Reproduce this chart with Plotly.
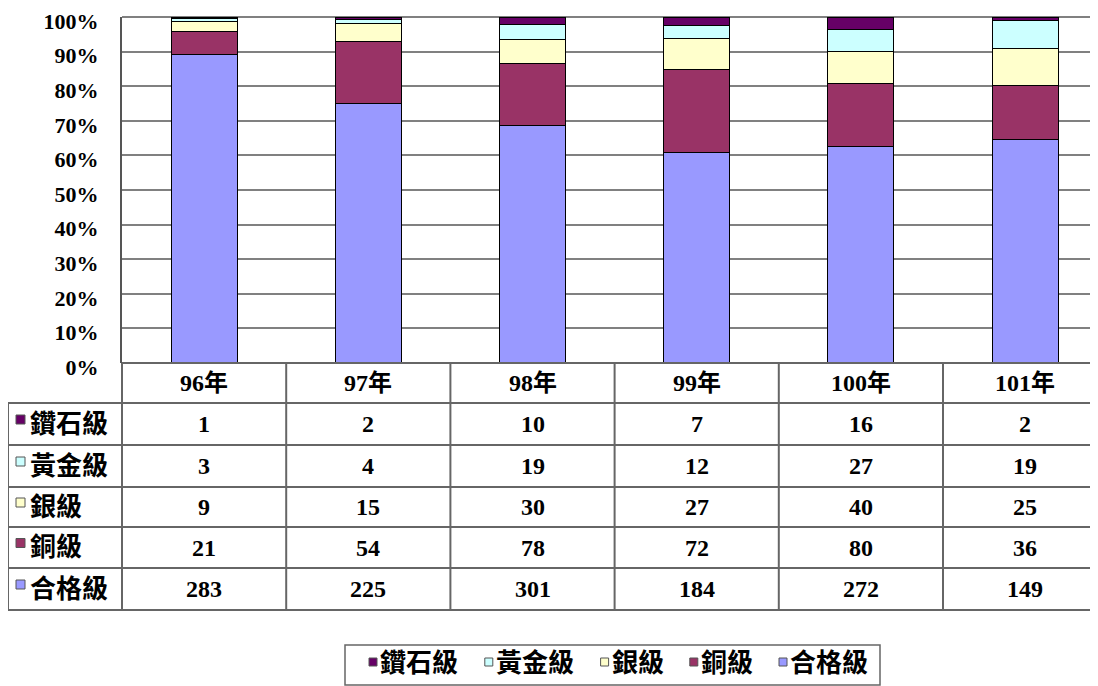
import plotly.graph_objects as go

# dados
anos = ["96年", "97年", "98年", "99年", "100年", "101年"]
series = ["合格級", "銅級", "銀級", "黃金級", "鑽石級"]
cores = ["#9999FF", "#993366", "#FFFFCC", "#CCFFFF", "#660066"]
hege = [283, 225, 301, 184, 272, 149]
tong = [21, 54, 78, 72, 80, 36]
yin = [9, 15, 30, 27, 40, 25]
huangjin = [3, 4, 19, 12, 27, 19]
zuanshi = [1, 2, 10, 7, 16, 2]
valores = [hege, tong, yin, huangjin, zuanshi]
ticks_pct = [0, 10, 20, 30, 40, 50, 60, 70, 80, 90, 100]

# a pagina tem margem de 8px no body
OFF = 8
W, H = 1098 - OFF, 686 - OFF
FONTE = "Liberation Serif, 'Noto Sans CJK TC', serif"

def px(x):
    return (x - OFF) / W

def py(y):
    return 1 - (y - OFF) / H

# area do grafico em pixels da tela
x0, xfim = 122, 1098
larg = 164.2  # largura de cada coluna (a ultima passa da borda)
ytop, ybot = 17, 363
linhas = [363, 403, 445, 487, 527, 568, 610]
xlab = 8

fig = go.Figure()
for nome, cor, vals in zip(series, cores, valores):
    fig.add_trace(go.Bar(
        x=anos, y=vals, name=nome,
        marker=dict(color=cor, line=dict(color="#000000", width=1)),
    ))

shapes = []
annots = []
cinza = "#666666"
linha = dict(color=cinza, width=2)

# linha do topo (100%)
shapes.append(dict(type="line", xref="paper", yref="paper",
                   x0=px(x0), x1=px(xfim), y0=py(ytop), y1=py(ytop),
                   line=dict(color="#808080", width=2), layer="below"))

# linhas horizontais da tabela
for j, yl in enumerate(linhas):
    shapes.append(dict(type="line", xref="paper", yref="paper",
                       x0=px(x0 if j == 0 else xlab), x1=px(xfim),
                       y0=py(yl), y1=py(yl), line=linha))
# linhas verticais
for k in range(len(anos)):
    xv = x0 + k * larg
    shapes.append(dict(type="line", xref="paper", yref="paper",
                       x0=px(xv), x1=px(xv), y0=py(linhas[0]), y1=py(linhas[-1]),
                       line=linha))
shapes.append(dict(type="line", xref="paper", yref="paper",
                   x0=px(xlab), x1=px(xlab), y0=py(linhas[1]), y1=py(linhas[-1]),
                   line=linha))

# cabecalho com os anos
for k, ano in enumerate(anos):
    annots.append(dict(x=px(x0 + (k + 0.5) * larg), y=py((linhas[0] + linhas[1]) / 2),
                       xref="paper", yref="paper", text=ano, showarrow=False,
                       xanchor="center", yanchor="middle",
                       font=dict(family=FONTE, size=24, color="black", weight="bold")))

# linhas de dados (diamante em cima)
ordem = list(range(len(series)))[::-1]
for r, i in enumerate(ordem):
    yc = (linhas[r + 1] + linhas[r + 2]) / 2
    shapes.append(dict(type="rect", xref="paper", yref="paper",
                       x0=px(16), x1=px(25), y0=py(yc - 9), y1=py(yc),
                       fillcolor=cores[i], line=dict(color="#555555", width=1)))
    annots.append(dict(x=px(28), y=py(yc), xref="paper", yref="paper",
                       text=series[i], showarrow=False, xanchor="left", yanchor="middle",
                       font=dict(family=FONTE, size=26, color="black", weight="bold")))
    for k, v in enumerate(valores[i]):
        annots.append(dict(x=px(x0 + (k + 0.5) * larg), y=py(yc), xref="paper", yref="paper",
                           text=str(v), showarrow=False, xanchor="center", yanchor="middle",
                           font=dict(family=FONTE, size=24, color="black", weight="bold")))

# legenda desenhada a mao
shapes.append(dict(type="rect", xref="paper", yref="paper",
                   x0=px(345), x1=px(880), y0=py(645), y1=py(685),
                   line=dict(color=cinza, width=1.5), fillcolor="white"))
xl, yl = 369, 663
for i in ordem:
    shapes.append(dict(type="rect", xref="paper", yref="paper",
                       x0=px(xl), x1=px(xl + 8), y0=py(yl - 5), y1=py(yl + 3),
                       fillcolor=cores[i], line=dict(color="#555555", width=1)))
    annots.append(dict(x=px(xl + 9), y=py(yl), xref="paper", yref="paper",
                       text=series[i], showarrow=False, xanchor="left", yanchor="middle",
                       font=dict(family=FONTE, size=26, color="black", weight="bold")))
    xl += 9 + 26.6 * len(series[i]) + 27

fig.update_layout(
    width=W, height=H,
    barmode="stack", barnorm="percent", bargap=0.598,
    paper_bgcolor="white", plot_bgcolor="white",
    margin=dict(l=0, r=0, t=0, b=0, autoexpand=False),
    showlegend=False,
    xaxis=dict(domain=[px(x0), px(xfim)], range=[-0.5, -0.5 + (xfim - x0) / larg],
               showticklabels=False, showline=False, showgrid=False, zeroline=False),
    yaxis=dict(domain=[py(ybot), py(ytop)], range=[0, 100],
               tickvals=ticks_pct, ticktext=[f"{t}%" for t in ticks_pct],
               ticklabeloverflow="allow", ticklabelshift=4,
               showgrid=True, gridcolor="#808080", gridwidth=2,
               showline=True, linecolor="#555555", linewidth=2, zeroline=False,
               ticks="", ticklabelstandoff=17,
               tickfont=dict(family=FONTE, size=22, color="black", weight="bold")),
    shapes=shapes, annotations=annots,
)

fig.write_html("out.html")
